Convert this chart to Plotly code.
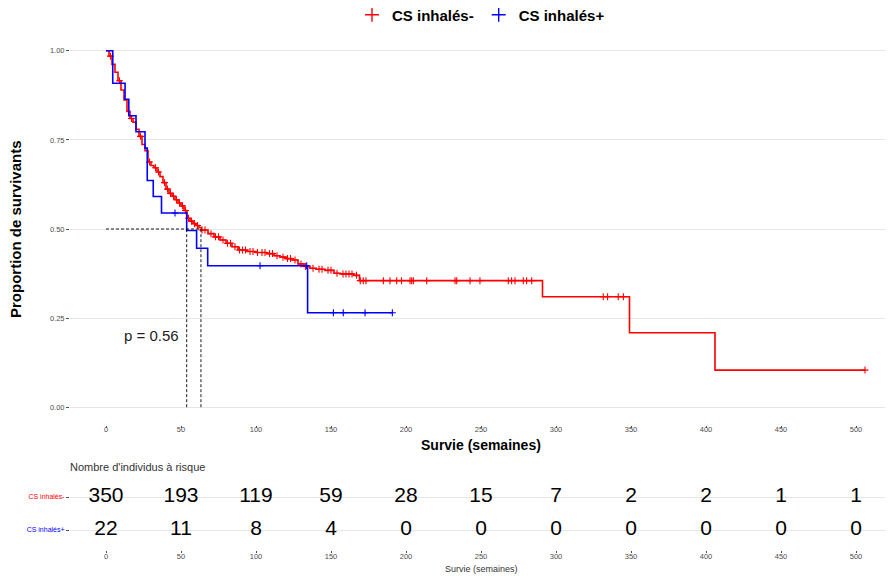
import numpy as np
import plotly.graph_objects as go
from plotly.subplots import make_subplots

# ---- data ----
red_name = "CS inhalés-"
blue_name = "CS inhalés+"

red_t = [0, 2, 4, 6, 8, 10, 12, 14, 16, 18, 20, 22, 24, 26, 28, 30, 32, 34, 36, 38,
         40, 42, 44, 46, 48, 50, 52, 54, 56, 58, 60, 62, 63.5, 68, 72, 76, 80, 84, 88,
         94, 100, 107, 112, 116, 120, 124, 128, 132, 136, 140, 146, 152, 156, 165,
         169, 291, 349, 406]
red_s = [1.0, 0.985, 0.962, 0.94, 0.916, 0.89, 0.862, 0.83, 0.81, 0.80, 0.78, 0.76,
         0.737, 0.72, 0.688, 0.678, 0.672, 0.66, 0.647, 0.63, 0.612, 0.60, 0.592,
         0.582, 0.573, 0.565, 0.552, 0.53, 0.522, 0.515, 0.51, 0.504, 0.497, 0.487,
         0.478, 0.469, 0.46, 0.45, 0.441, 0.437, 0.434, 0.431, 0.425, 0.421, 0.417,
         0.413, 0.402, 0.395, 0.39, 0.387, 0.384, 0.376, 0.374, 0.37, 0.355, 0.31,
         0.209, 0.104]
red_end = 506
red_cens = [3, 9, 17, 23, 29, 33, 35, 39, 41, 43, 45, 47, 49, 51, 53, 55, 57, 59, 61,
            64, 66, 70, 73, 75, 78, 81, 83, 86, 89, 91, 93, 96, 98, 101, 104, 106, 109,
            111, 114, 118, 121, 123, 126, 130, 133, 138, 142, 144, 148, 150, 154, 158,
            160, 162, 164, 167, 169.5, 171.5, 173.3, 184.9, 189.3, 193.8, 197, 202.7,
            203.8, 204.9, 213.8, 232.7, 233.8, 242.7, 249.3, 268.2, 270.4, 272.7,
            278.2, 280.4, 283.8, 331.5, 334.4, 341.5, 344.9, 506]

blue_t = [0, 4.5, 12.7, 15.2, 20, 26, 27.5, 31.5, 37, 53.8, 60.4, 67.8, 134.4]
blue_s = [1.0, 0.909, 0.864, 0.818, 0.773, 0.727, 0.636, 0.591, 0.545, 0.496, 0.446,
          0.397, 0.265]
blue_end = 191
blue_cens = [46, 102.7, 133.8, 151.6, 158.2, 172.7, 190.9]

median_red = 63.3
median_blue = 53.8
p_text = "p = 0.56"

risk_times = [0, 50, 100, 150, 200, 250, 300, 350, 400, 450, 500]
risk_red = [350, 193, 119, 59, 28, 15, 7, 2, 2, 1, 1]
risk_blue = [22, 11, 8, 4, 0, 0, 0, 0, 0, 0, 0]

x_ticks = [0, 50, 100, 150, 200, 250, 300, 350, 400, 450, 500]
y_ticks = [0, 0.25, 0.5, 0.75, 1.0]
y_ticktext = ["0.00", "0.25", "0.50", "0.75", "1.00"]

RED = "#FF0000"
BLUE = "#0000FF"
FONT = "Arial, Liberation Sans, sans-serif"

# ---- figure (page body has an 8px margin, compensate) ----
OFF = 8
W, H = 893 - OFF, 579 - OFF
ML, MR, MT, MB = 70 - OFF, 0, 33 - OFF, 29
ph = H - MT - MB

def py(pix):  # screen pixel from top -> paper y
    return (H - MB - (pix - OFF)) / ph

def px(pix):  # screen pixel from left -> paper x
    return (pix - OFF - ML) / (W - ML - MR)

fig = make_subplots(rows=2, cols=1)

def surv_at(ts, ss, c):
    idx = np.searchsorted(np.array(ts), np.array(c), side="right") - 1
    return np.array(ss)[idx]

for ts, ss, end, cens, col, name in [
        (red_t, red_s, red_end, red_cens, RED, red_name),
        (blue_t, blue_s, blue_end, blue_cens, BLUE, blue_name)]:
    fig.add_trace(go.Scatter(x=list(ts) + [end], y=list(ss) + [ss[-1]], mode="lines",
                             line=dict(color=col, width=1.6, shape="hv"),
                             showlegend=False, hoverinfo="skip"), row=1, col=1)
    fig.add_trace(go.Scatter(x=cens, y=surv_at(ts, ss, cens), mode="markers",
                             marker=dict(symbol="cross-thin", size=5,
                                         line=dict(color=col, width=1.1)),
                             showlegend=False, hoverinfo="skip"), row=1, col=1)
    # legend entry
    fig.add_trace(go.Scatter(x=[None], y=[None], mode="markers",
                             name=f"<b>{name}</b>",
                             marker=dict(symbol="cross-thin", size=10,
                                         line=dict(color=col, width=1.4))),
                  row=1, col=1)

# median dashed lines
dash = dict(color="black", width=0.9, dash="3px,2px")
fig.add_trace(go.Scatter(x=[0, max(median_red, median_blue)], y=[0.5, 0.5], mode="lines",
                         line=dash, showlegend=False, hoverinfo="skip"), row=1, col=1)
for m in [median_blue, median_red]:
    fig.add_trace(go.Scatter(x=[m, m], y=[0, 0.5], mode="lines", line=dash,
                             showlegend=False, hoverinfo="skip"), row=1, col=1)

# risk table
fig.add_trace(go.Scatter(x=risk_times, y=[1] * len(risk_times), mode="text",
                         text=[str(v) for v in risk_red],
                         textfont=dict(size=21, color="black", family=FONT),
                         showlegend=False, hoverinfo="skip"), row=2, col=1)
fig.add_trace(go.Scatter(x=risk_times, y=[0] * len(risk_times), mode="text",
                         text=[str(v) for v in risk_blue],
                         textfont=dict(size=21, color="black", family=FONT),
                         showlegend=False, hoverinfo="skip"), row=2, col=1)

xr = [-24, (893 - 106) / 1.5]
tickfont = dict(size=7.5, color="#4d4d4d", family=FONT)
axis_common = dict(range=xr, tickvals=x_ticks, ticks="outside", ticklen=2,
                   tickcolor="#4d4d4d", tickwidth=0.8, showgrid=False, zeroline=False,
                   showline=False, tickfont=tickfont, automargin=False)
fig.update_layout(
    xaxis=dict(domain=[0, 1], anchor="y", ticklabelstandoff=-5, **axis_common),
    yaxis=dict(domain=[py(425), 1], range=[-0.05, 1.05], tickvals=y_ticks,
               ticktext=y_ticktext, ticks="outside", ticklen=3, tickcolor="#4d4d4d",
               tickwidth=0.8, showgrid=True, gridcolor="#e6e6e6", gridwidth=1,
               zeroline=False, showline=False, tickfont=tickfont, automargin=False),
    xaxis2=dict(domain=[0, 1], anchor="y2", ticklabelstandoff=-3, **axis_common),
    yaxis2=dict(domain=[0, py(477)], range=[-0.606, 1.606], tickvals=[0, 1],
                ticktext=[f"<span style='color:{BLUE}'>{blue_name}</span>",
                          f"<span style='color:{RED}'>{red_name}</span>"],
                ticks="outside", ticklen=3, tickcolor="#4d4d4d", tickwidth=0.8,
                showgrid=True, gridcolor="#e6e6e6", gridwidth=1, zeroline=False,
                showline=False, tickfont=dict(size=7, family=FONT), automargin=False),
)

annotations = [
    dict(text="<b>Proportion de survivants</b>", xref="paper", yref="paper",
         x=px(15), y=py(229), textangle=-90, showarrow=False,
         font=dict(size=15, color="black", family=FONT), xanchor="center",
         yanchor="middle"),
    dict(text="<b>Survie (semaines)</b>", xref="paper", yref="paper", x=px(481),
         y=py(445), showarrow=False, font=dict(size=14, color="black", family=FONT),
         xanchor="center", yanchor="middle"),
    dict(text=p_text, xref="x", yref="y", x=30.5, y=0.2, showarrow=False,
         font=dict(size=15, color="#222", family=FONT), xanchor="center",
         yanchor="middle"),
    dict(text="Nombre d'individus à risque", xref="paper", yref="paper",
         x=px(68), y=py(467), showarrow=False,
         font=dict(size=11, color="#333", family=FONT), xanchor="left",
         yanchor="middle"),
    dict(text="Survie (semaines)", xref="paper", yref="paper", x=px(481), y=py(568.5),
         showarrow=False, font=dict(size=9, color="#333", family=FONT),
         xanchor="center", yanchor="middle"),
]

fig.update_layout(
    width=W, height=H, margin=dict(l=ML, r=MR, t=MT, b=MB, autoexpand=False),
    paper_bgcolor="white", plot_bgcolor="white",
    font=dict(family=FONT),
    annotations=annotations,
    legend=dict(orientation="h", x=px(481), xanchor="center", y=1 - (15 - OFF) / H,
                yref="container", yanchor="middle",
                font=dict(size=15, color="black", family=FONT),
                tracegroupgap=0, bgcolor="rgba(0,0,0,0)"),
)

fig.write_html("out.html")
